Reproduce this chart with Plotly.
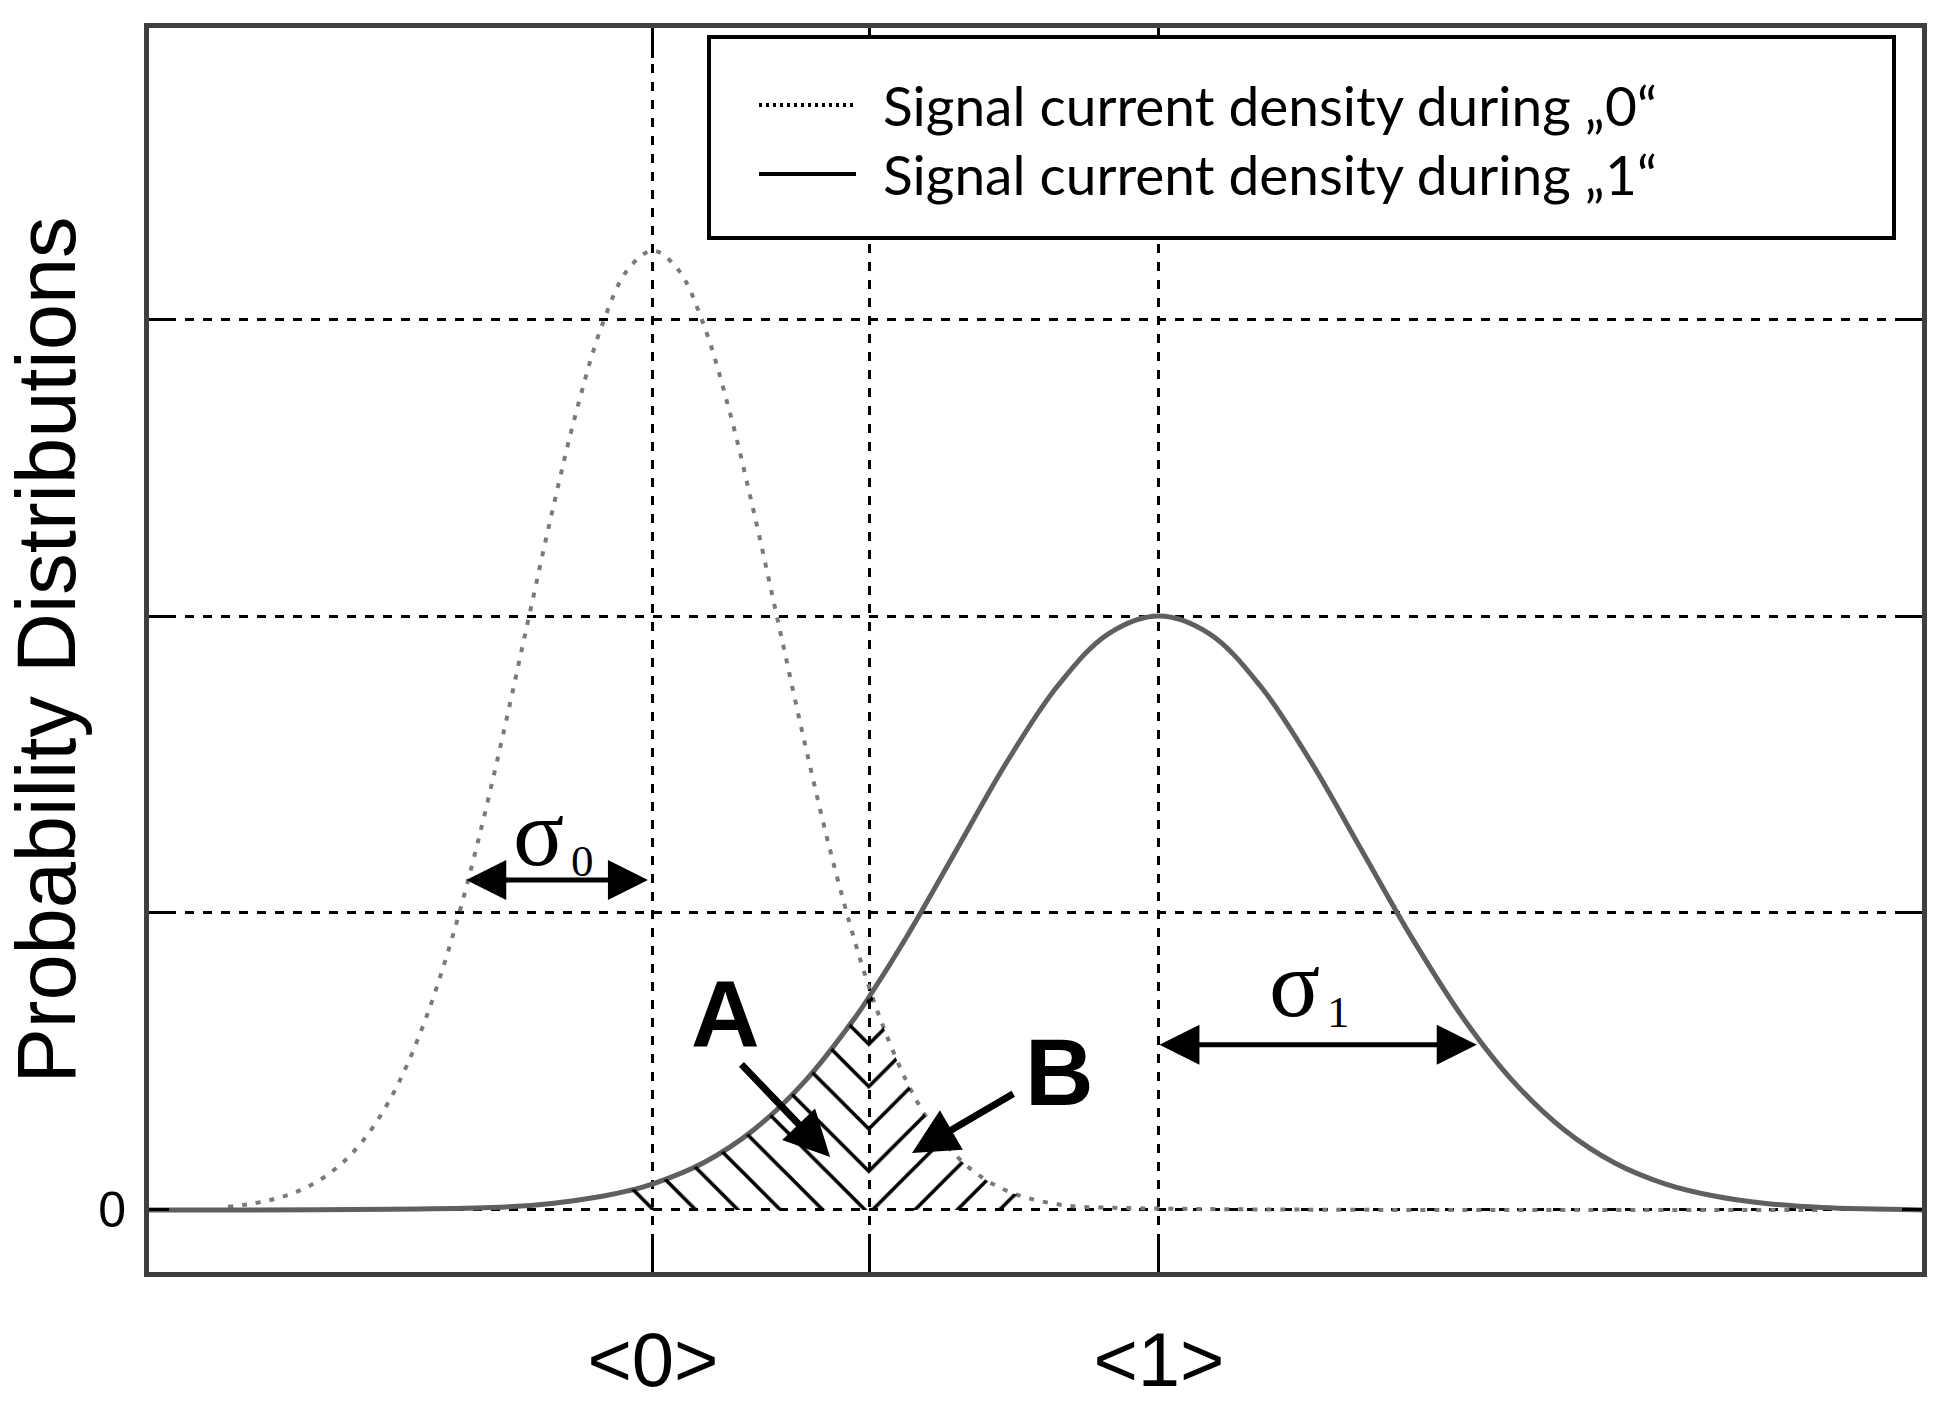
import plotly.graph_objects as go

# ---------------- data ----------------
# x is expressed in units of the signal levels: <0> = 0, <1> = 1
x_tick_vals = [0.0, 0.427, 1.0]
x_tick_text = ["<0>", "", "<1>"]
y_tick_vals = [0, 1, 2, 3]
y_tick_text = ["0", "", "", ""]

decision_threshold = 0.427

# signal current density during "0" (dotted curve)
x_zero = [-0.84, -0.80, -0.75, -0.70, -0.65, -0.60, -0.55, -0.50, -0.45, -0.40,
          -0.35, -0.30, -0.25, -0.20, -0.15, -0.10, -0.05, 0.00, 0.05, 0.10,
          0.15, 0.20, 0.25, 0.30, 0.35, 0.40, 0.427, 0.45, 0.50, 0.55,
          0.60, 0.65, 0.70, 0.75, 0.80, 0.84, 2.31]
y_zero = [0.011, 0.019, 0.036, 0.064, 0.11, 0.181, 0.287, 0.437, 0.64, 0.898,
          1.212, 1.572, 1.959, 2.345, 2.698, 2.982, 3.166, 3.23, 3.166, 2.982,
          2.698, 2.345, 1.959, 1.572, 1.212, 0.898, 0.751, 0.64, 0.437, 0.287,
          0.181, 0.11, 0.064, 0.036, 0.019, 0.011, 0.0]

# signal current density during "1" (solid curve)
x_one = [-1.0, -0.32, -0.2, -0.1, -0.05, 0.0, 0.1, 0.2, 0.3, 0.4,
         0.427, 0.5, 0.6, 0.7, 0.8, 0.9, 1.0, 1.1, 1.2, 1.3,
         1.4, 1.5, 1.6, 1.7, 1.8, 1.9, 2.0, 2.1, 2.2, 2.31, 2.51]
y_one = [0.0, 0.008, 0.022, 0.046, 0.064, 0.088, 0.159, 0.271, 0.433, 0.649,
         0.717, 0.916, 1.213, 1.51, 1.765, 1.94, 2.0, 1.94, 1.765, 1.51,
         1.213, 0.916, 0.649, 0.433, 0.271, 0.159, 0.088, 0.046, 0.022, 0.008, 0.0]

# hatched error areas
area_a_start = -0.05
area_b_end = 0.75

legend_labels = ["Signal current density during „0“",
                 "Signal current density during „1“"]
axis_title = "Probability Distributions"

# ---------------- figure ----------------
FIG_W, FIG_H = 1945, 1409
L, R, T, B = 149, 1922, 28, 1272          # plot box in pixels


def px(xp):
    return (xp - L) / (R - L)


def py(yp):
    return (B - yp) / (B - T)


SANS = "Liberation Sans, Arial, sans-serif"
SERIF = "Liberation Serif, Times New Roman, serif"
LEG = "Lato, Open Sans, sans-serif"

fig = go.Figure()

fig.add_trace(go.Scatter(
    x=x_zero, y=y_zero, mode="lines", name=legend_labels[0],
    line=dict(color="#7a7a7a", width=4, dash="5px,9px", shape="spline"),
    showlegend=False, hoverinfo="skip"))

fig.add_trace(go.Scatter(
    x=x_one, y=y_one, mode="lines", name=legend_labels[1],
    line=dict(color="#5f5f5f", width=5, shape="spline"),
    showlegend=False, hoverinfo="skip"))

# area A: tail of "1" below the threshold
ax_pts = [x for x in x_one if area_a_start <= x <= decision_threshold]
ay_pts = [y for x, y in zip(x_one, y_one) if area_a_start <= x <= decision_threshold]
fig.add_trace(go.Scatter(
    x=ax_pts, y=ay_pts, mode="lines", fill="tozeroy",
    line=dict(width=0, shape="spline"), fillcolor="rgba(0,0,0,0)",
    fillpattern=dict(shape="\\", size=29.94, solidity=0.12,
                     fgcolor="black", bgcolor="rgba(0,0,0,0)", fillmode="replace"),
    showlegend=False, hoverinfo="skip"))

# area B: tail of "0" above the threshold
bx_pts = [x for x in x_zero if decision_threshold <= x <= area_b_end]
by_pts = [y for x, y in zip(x_zero, y_zero) if decision_threshold <= x <= area_b_end]
fig.add_trace(go.Scatter(
    x=bx_pts, y=by_pts, mode="lines", fill="tozeroy",
    line=dict(width=0, shape="spline"), fillcolor="rgba(0,0,0,0)",
    fillpattern=dict(shape="/", size=29.94, solidity=0.12,
                     fgcolor="black", bgcolor="rgba(0,0,0,0)", fillmode="replace"),
    showlegend=False, hoverinfo="skip"))

annotations = []

# sigma arrows (double headed)
arrow_common = dict(xref="x", yref="y", axref="x", ayref="y", text="",
                    showarrow=True, arrowhead=2, startarrowhead=2,
                    arrowside="end+start", arrowwidth=5, arrowsize=1.6,
                    startarrowsize=1.6, arrowcolor="black", standoff=0,
                    startstandoff=0)
annotations.append(dict(x=-0.01, y=1.111, ax=-0.372, ay=1.111, **arrow_common))
annotations.append(dict(x=1.628, y=0.556, ax=0.998, ay=0.556, **arrow_common))

# sigma labels
annotations.append(dict(x=-0.226, y=1.27, xref="x", yref="y", text="σ",
                        showarrow=False, font=dict(family=SERIF, size=95, color="black")))
annotations.append(dict(x=-0.140, y=1.175, xref="x", yref="y", text="0",
                        showarrow=False, font=dict(family=SERIF, size=45, color="black")))
annotations.append(dict(x=1.267, y=0.76, xref="x", yref="y", text="σ",
                        showarrow=False, font=dict(family=SERIF, size=95, color="black")))
annotations.append(dict(x=1.354, y=0.665, xref="x", yref="y", text="1",
                        showarrow=False, font=dict(family=SERIF, size=45, color="black")))

# A / B arrows and letters
ab_arrow = dict(xref="x", yref="y", axref="x", ayref="y", text="",
                showarrow=True, arrowhead=2, arrowwidth=7, arrowsize=1.3,
                arrowcolor="black", standoff=0)
annotations.append(dict(x=0.350, y=0.178, ax=0.172, ay=0.495, **ab_arrow))
annotations.append(dict(x=0.512, y=0.192, ax=0.715, ay=0.394, **ab_arrow))
annotations.append(dict(x=0.144, y=0.660, xref="x", yref="y", text="<b>A</b>",
                        showarrow=False, font=dict(family=SANS, size=95, color="black")))
annotations.append(dict(x=0.804, y=0.465, xref="x", yref="y", text="<b>B</b>",
                        showarrow=False, font=dict(family=SANS, size=95, color="black")))

# manual legend
shapes = [
    dict(type="rect", xref="paper", yref="paper",
         x0=px(709), x1=px(1894), y0=py(238), y1=py(37),
         line=dict(color="black", width=4), fillcolor="white", layer="above"),
    dict(type="line", xref="paper", yref="paper",
         x0=px(759), x1=px(856), y0=py(105), y1=py(105),
         line=dict(color="black", width=4, dash="3px,4px"), layer="above"),
    dict(type="line", xref="paper", yref="paper",
         x0=px(759), x1=px(856), y0=py(174), y1=py(174),
         line=dict(color="black", width=4), layer="above"),
]
for label, yp in zip(legend_labels, [105, 174]):
    annotations.append(dict(x=px(881), y=py(yp), xref="paper", yref="paper",
                            xanchor="left", yanchor="middle", text=label,
                            showarrow=False,
                            font=dict(family=LEG, size=55, color="black")))

fig.update_layout(
    width=FIG_W, height=FIG_H,
    margin=dict(l=L, r=FIG_W - R, t=T, b=FIG_H - B, pad=0, autoexpand=False),
    paper_bgcolor="white", plot_bgcolor="white",
    showlegend=False,
    font=dict(family=SANS, color="black"),
    annotations=annotations, shapes=shapes,
)

fig.update_xaxes(
    range=[-0.996, 2.508], tickmode="array", tickvals=x_tick_vals, ticktext=x_tick_text,
    showgrid=True, gridcolor="black", gridwidth=2.5, griddash="9px,9px",
    zeroline=False, showline=True, linecolor="#3f3f3f", linewidth=5, mirror="allticks",
    ticks="inside", ticklen=30, tickwidth=3, tickcolor="black", automargin=False,
    tickfont=dict(family=SANS, size=76, color="black"), ticklabelstandoff=18,
)
fig.update_yaxes(
    range=[-0.209, 3.98], tickmode="array", tickvals=y_tick_vals, ticktext=y_tick_text,
    showgrid=True, gridcolor="black", gridwidth=2.5, griddash="9px,9px",
    zeroline=False, showline=True, linecolor="#3f3f3f", linewidth=5, mirror="allticks",
    ticks="inside", ticklen=20, tickwidth=3, tickcolor="black", automargin=False,
    tickfont=dict(family=SANS, size=50, color="black"), ticklabelstandoff=8,
    title=dict(text=axis_title, font=dict(family=SANS, size=83, color="black"), standoff=12),
)

fig.write_html("out.html", config={"displayModeBar": False},
               post_script="document.body.style.margin='0';document.body.style.overflow='hidden';")
